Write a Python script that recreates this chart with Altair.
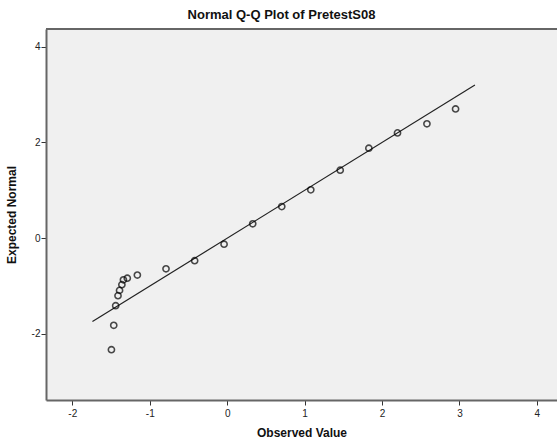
import altair as alt
import pandas as pd

observed = [-1.495, -1.465, -1.44, -1.41, -1.39, -1.36, -1.34, -1.29, -1.16, -0.79,
            -0.42, -0.04, 0.33, 0.705, 1.08, 1.46, 1.83, 2.20, 2.58, 2.95]
expected = [-2.33, -1.82, -1.41, -1.20, -1.09, -0.97, -0.87, -0.835, -0.77, -0.64,
            -0.47, -0.125, 0.30, 0.66, 1.01, 1.42, 1.88, 2.20, 2.39, 2.70]

# Reference line (y = x) endpoints
line_x = [-1.74, 3.20]
line_y = [-1.74, 3.20]

x_ticks = [-2, -1, 0, 1, 2, 3, 4]
y_ticks = [-2, 0, 2, 4]

pts = pd.DataFrame({"obs": observed, "exp": expected})
ref = pd.DataFrame({"obs": line_x, "exp": line_y})

W, H = 511, 371
FONT = "Liberation Sans"

xscale = alt.Scale(domain=[-2.34, 4.26], nice=False, zero=False)
yscale = alt.Scale(domain=[-3.38, 4.37], nice=False, zero=False)

LABEL = "'' + datum.value"

xaxis = alt.Axis(values=x_ticks, title="Observed Value", grid=False, labelExpr=LABEL,
                 tickSize=5, tickColor="#333333", tickWidth=1,
                 domainColor="#666666", domainWidth=2,
                 labelFont=FONT, labelFontSize=10, labelColor="#222222", labelPadding=3,
                 titleFont=FONT, titleFontSize=12, titleFontWeight="bold",
                 titleColor="#111111", titlePadding=9)
yaxis = alt.Axis(values=y_ticks, title="Expected Normal", grid=False, labelExpr=LABEL,
                 tickSize=5, tickColor="#333333", tickWidth=1,
                 domainColor="#666666", domainWidth=2,
                 labelFont=FONT, labelFontSize=10, labelColor="#222222", labelPadding=1,
                 titleFont=FONT, titleFontSize=12, titleFontWeight="bold",
                 titleColor="#111111", titlePadding=13)

line = alt.Chart(ref).mark_line(color="#222222", strokeWidth=1.2).encode(
    x=alt.X("obs:Q", scale=xscale, axis=xaxis),
    y=alt.Y("exp:Q", scale=yscale, axis=yaxis),
)

points = alt.Chart(pts).mark_point(
    shape="circle", filled=False, color="black", strokeWidth=1.6, size=38
).encode(
    x=alt.X("obs:Q", scale=xscale),
    y=alt.Y("exp:Q", scale=yscale),
)

top_border = alt.Chart(pts).mark_rule(color="#666666", strokeWidth=2).encode(
    x=alt.value(0), x2=alt.value(W), y=alt.value(0)
)

chart = alt.layer(top_border, line, points).properties(
    width=W,
    height=H,
    title=alt.TitleParams("Normal Q-Q Plot of PretestS08", font=FONT, fontSize=13,
                          fontWeight="bold", color="#111111", offset=6, dx=-20),
    autosize=alt.AutoSizeParams(type="none"),
    padding={"left": 46, "top": 29, "right": 0, "bottom": 45},
    background="white",
).configure_view(fill="#f0f0f0", stroke=None)

chart.save("out.html", embed_options={"renderer": "svg", "actions": False})
